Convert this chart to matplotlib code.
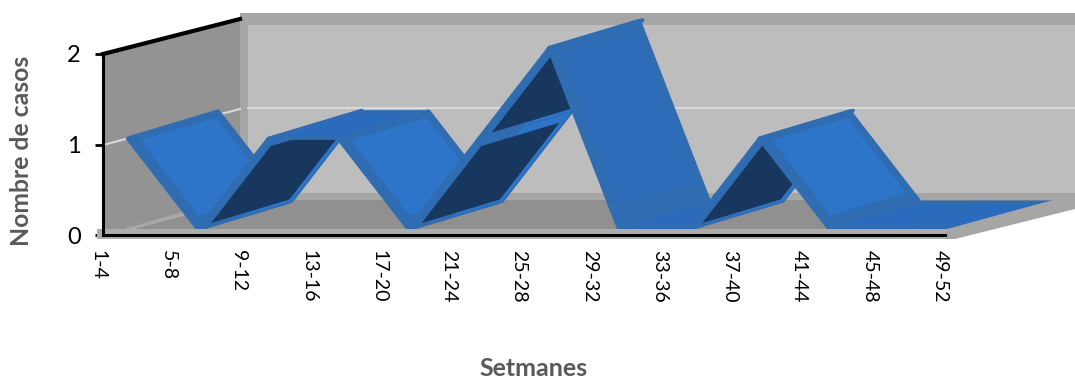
import matplotlib
matplotlib.use('Agg')
import matplotlib.pyplot as plt
from matplotlib.patches import Polygon, Rectangle
from matplotlib.transforms import ScaledTranslation

plt.rcParams['font.family'] = ['Lato', 'DejaVu Sans']

setmanes = ['1-4', '5-8', '9-12', '13-16', '17-20', '21-24', '25-28', '29-32',
            '33-36', '37-40', '41-44', '45-48', '49-52']
casos = [1, 0, 1, 1, 0, 1, 2, 0, 0, 1, 0, 0, 0]

W, H = 1075, 380
# mida de l'eix frontal en pixels
X0, X1 = 103, 945
Y0, Y2 = 235, 54
PX_X = (X1 - X0) / 12
PX_Y = (Y0 - Y2) / 2

# desplacament de la cinta respecte l'eix i profunditat, en unitats de dades
OFF_X, OFF_Y = 25 / PX_X, 6 / PX_Y
DEP_X, DEP_Y = 90 / PX_X, 27 / PX_Y

GRIS_PARET = '#939393'
GRIS_TERRA = '#909090'
GRIS_MARC = '#a6a6a6'
GRIS_FONS = '#bdbdbd'
GRIS_BANDA = '#adadad'
GRIDC = '#d9d9d9'
BLAU_CLAR = '#2e75c9'
BLAU_VORA = '#2f6cb2'
BLAU_PLA = '#2b6bbd'
BLAU_FOSC = '#17375e'

fig = plt.figure(figsize=(W / 100, H / 100), dpi=100)

# fons en pixels, y cap avall
bg = fig.add_axes([0, 0, 1, 1], zorder=0)
bg.set_xlim(0, W)
bg.set_ylim(H, 0)
bg.axis('off')

bg.add_patch(Rectangle((240, 13), W - 240, 187, fc=GRIS_MARC, ec='none'))
bg.add_patch(Rectangle((248, 25), W - 248, 168, fc=GRIS_FONS, ec='none'))
bg.add_patch(Polygon([(103, 54), (240, 19), (240, 200), (103, 235)], fc=GRIS_PARET, ec='none'))
bg.add_patch(Polygon([(103, 235), (240, 195), (240, 200), (133, 229), (103, 229)], fc=GRIS_MARC, ec='none'))
bg.add_patch(Polygon([(133, 229), (240, 200), (W, 200), (947, 229)], fc=GRIS_TERRA, ec='none'))
bg.plot([248, W], [108, 108], color=GRIDC, lw=1.5)
bg.plot([103, 240], [145, 109], color=GRIDC, lw=1.5)
bg.plot([103, 240], [54, 19], color='black', lw=3)

ax = fig.add_axes([X0 / W, 1 - Y0 / H, (X1 - X0) / W, (Y0 - Y2) / H], zorder=1)
ax.patch.set_alpha(0)
ax.set_xlim(0, 12)
ax.set_ylim(0, 2)


def punt(s, d, i):
    """Punt de la cinta: s al llarg del tram i, d en profunditat."""
    v = casos[i] + s * (casos[i + 1] - casos[i])
    return (i + s + OFF_X + d * DEP_X, v + OFF_Y + d * DEP_Y)


def quad(i, s0, s1, d0, d1):
    return [punt(s0, d0, i), punt(s1, d0, i), punt(s1, d1, i), punt(s0, d1, i)]


for i in range(len(casos) - 1):
    dv = casos[i + 1] - casos[i]
    if dv > 0:
        ax.add_patch(Polygon(quad(i, 0, 1, 0, 1.04), fc=BLAU_VORA, ec=BLAU_VORA, lw=2.5,
                             joinstyle='round', clip_on=False, zorder=3))
        ax.add_patch(Polygon(quad(i, 0, 1, 0.5, 1.04), fc=BLAU_CLAR, ec='none', clip_on=False, zorder=3))
        ax.add_patch(Polygon(quad(i, 0.03, 0.88, 0.12, 0.99), fc=BLAU_FOSC, ec='none',
                             clip_on=False, zorder=3))
    elif dv < 0:
        ple = BLAU_CLAR if dv == -1 else '#2d6cb9'
        ax.add_patch(Polygon(quad(i, 0, 1, 0, 1), fc=BLAU_VORA, ec=BLAU_VORA, lw=3,
                             joinstyle='round', clip_on=False, zorder=3))
        ax.add_patch(Polygon(quad(i, 0.05, 0.88, 0.1, 0.94), fc=ple, ec='none',
                             clip_on=False, zorder=3))
    else:
        ax.add_patch(Polygon(quad(i, 0, 1, 0, 1), fc=BLAU_VORA, ec=BLAU_VORA, lw=2,
                             joinstyle='round', clip_on=False, zorder=3))
        ax.add_patch(Polygon(quad(i, 0.05, 0.95, 0.1, 0.9), fc=BLAU_PLA, ec='none',
                             clip_on=False, zorder=3))

# el lateral del terra tapa el final de la cinta
ax.add_patch(Polygon([(947, 229), (1053, 200), (W, 193), (W, 209), (955, 239), (947, 239)],
                     fc=GRIS_MARC, ec='none', transform=bg.transData, clip_on=False, zorder=4))
ax.add_patch(Rectangle((97, 229), 850, 10, fc=GRIS_BANDA, ec='none',
                       transform=bg.transData, clip_on=False, zorder=4))

for lloc in ['top', 'right']:
    ax.spines[lloc].set_visible(False)
for lloc in ['left', 'bottom']:
    ax.spines[lloc].set_linewidth(2.2)
    ax.spines[lloc].set_zorder(5)

ax.set_yticks([0, 1, 2])
ax.set_xticks(range(len(setmanes)))
ax.set_xticklabels(setmanes, rotation=270, fontsize=14, ha='center', va='top')
ax.tick_params(axis='x', length=0, pad=11)
ax.tick_params(axis='y', length=6, width=2, labelsize=17, pad=10)
for t in ax.get_xticklabels():
    t.set_transform(t.get_transform() + ScaledTranslation(-5 / 100, 0, fig.dpi_scale_trans))

fig.text(22 / W, 1 - 151 / H, 'Nombre de casos', rotation=90, ha='center', va='center',
         fontsize=17.8, fontweight='bold', color='#595959')
fig.text(534 / W, 1 - 369 / H, 'Setmanes', ha='center', va='center',
         fontsize=18, fontweight='bold', color='#595959')

fig.savefig('out.png', dpi=100)
